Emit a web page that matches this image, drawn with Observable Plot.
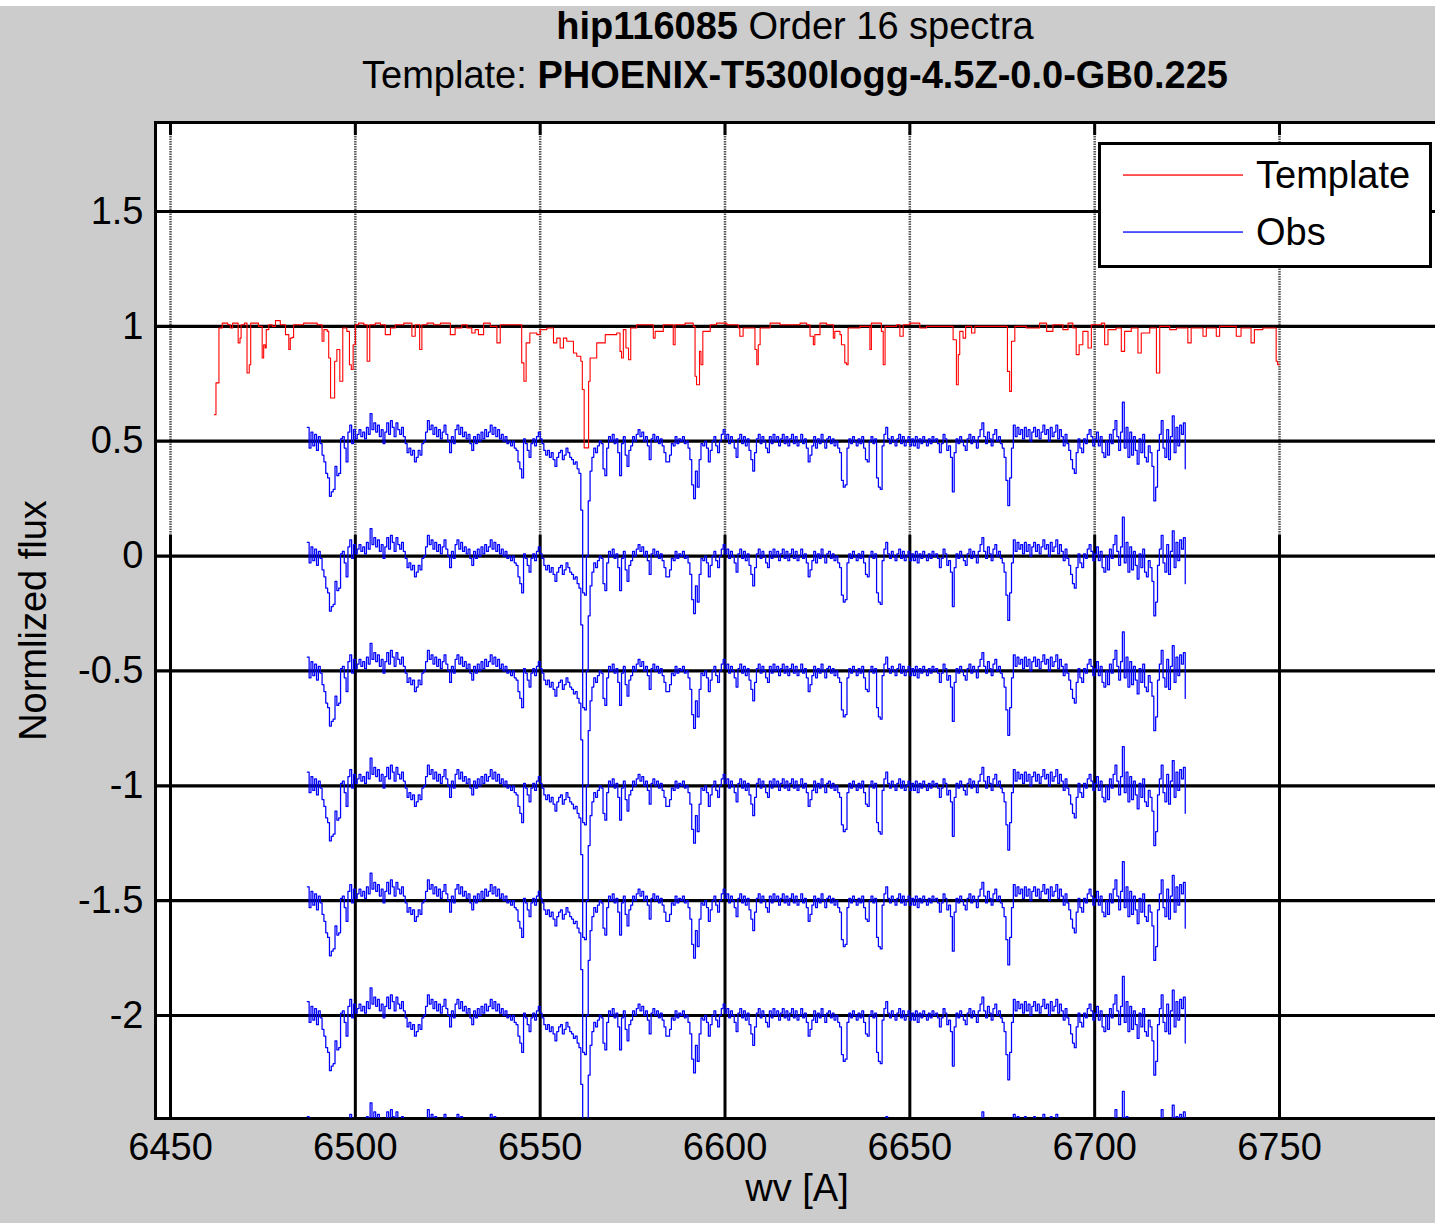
<!DOCTYPE html>
<html>
<head>
<meta charset="utf-8">
<script src="https://cdn.jsdelivr.net/npm/d3@7"></script>
<script src="https://cdn.jsdelivr.net/npm/@observablehq/plot@0.6"></script>
<style>
  html, body { margin: 0; padding: 0; }
  body {
    width: 1435px; height: 1223px; position: relative; overflow: hidden;
    background: #cccccc; color: #000;
    font-family: "Liberation Sans", Arial, Helvetica, sans-serif;
  }
  #topstrip { position: absolute; left: 0; top: 0; width: 1435px; height: 6px; background: #fff; }
  #title { position: absolute; left: 155px; top: 2px; width: 1280px; text-align: center; font-size: 38px; line-height: 49px; }
  #chart { position: absolute; left: 0; top: 100px; }
  #legend { position: absolute; left: 1098px; top: 142px; }
</style>
</head>
<body>
<div id="topstrip"></div>
<div id="title"></div>
<div id="chart"></div>
<div id="legend"></div>
<script>
// ---- labels ----
const starName = "hip116085";
const orderLabel = "Order 16 spectra";
const templateName = "PHOENIX-T5300logg-4.5Z-0.0-GB0.225";
const xLabel = "wv [A]";
const yLabel = "Normlized flux";
const legendLabels = ["Template", "Obs"];
const templateColor = "#ff0000";
const obsColor = "#0000ff";

// ---- axes ----
const xTicks = [6450, 6500, 6550, 6600, 6650, 6700, 6750];
const yTicks = [1.5, 1, 0.5, 0, -0.5, -1, -1.5, -2];
const xLimits = [6445.94, 6793.01];
const yLimits = [-2.4484, 1.8875];
const gridSplit = 0.09;   // dotted grid above, solid grid below

// ---- synthetic template spectrum: [wavelength, normalized flux] ----
const templateSpectrum = [
  [6461.9,0.616],[6462.3,0.754],[6463.1,0.993],[6464.0,1.014],[6465.5,1.007],[6466.2,0.993],[6466.8,1.014],
  [6468.3,0.928],[6468.8,0.949],[6469.1,1.007],[6470.0,1.014],[6470.7,0.797],[6471.3,0.833],[6471.7,1.014],
  [6473.0,1.014],[6473.8,1.000],[6474.8,0.862],[6475.2,0.920],[6475.6,0.906],[6475.9,0.986],[6476.6,1.007],
  [6477.5,1.000],[6478.4,1.025],[6479.7,1.007],[6481.1,0.964],[6482.0,0.899],[6482.4,0.949],[6482.9,0.952],
  [6483.3,1.007],[6485.1,1.007],[6486.0,1.014],[6488.3,1.014],[6489.7,1.007],[6491.0,0.935],[6491.5,0.986],
  [6492.4,0.978],[6492.8,0.862],[6493.3,0.688],[6494.4,0.848],[6495.0,0.899],[6495.8,0.761],[6496.6,0.993],
  [6497.7,0.978],[6498.4,0.833],[6498.9,0.812],[6499.4,0.920],[6500.0,1.007],[6500.9,1.014],[6502.3,1.007],
  [6503.2,0.848],[6503.9,1.007],[6505.4,1.014],[6506.8,1.007],[6508.1,0.964],[6509.5,0.993],[6510.8,1.007],
  [6513.1,1.014],[6515.3,0.957],[6516.2,1.007],[6517.4,0.899],[6518.0,1.007],[6519.4,1.014],[6521.2,1.007],
  [6523.0,1.014],[6525.7,0.964],[6527.0,0.993],[6528.8,1.007],[6530.2,0.993],[6531.5,0.971],[6532.4,0.986],
  [6533.3,0.964],[6534.7,1.014],[6536.5,1.000],[6538.3,0.928],[6539.2,1.007],[6541.5,1.007],[6543.7,1.007],
  [6545.0,0.841],[6545.6,0.761],[6546.2,0.928],[6547.2,0.971],[6549.1,0.964],[6550.0,0.986],[6551.8,0.993],
  [6553.6,0.928],[6554.5,0.949],[6555.4,0.906],[6556.3,0.949],[6557.2,0.935],[6558.6,0.935],[6559.0,0.884],
  [6559.9,0.870],[6561.0,0.848],[6561.4,0.725],[6561.9,0.471],[6562.6,0.471],[6563.1,0.761],[6563.5,0.862],
  [6565.3,0.928],[6567.6,0.964],[6570.7,0.971],[6571.6,0.891],[6572.0,0.862],[6572.5,0.986],[6573.2,0.906],
  [6573.9,0.855],[6574.5,0.993],[6576.1,1.007],[6579.7,1.007],[6580.6,0.949],[6581.1,0.978],[6583.3,1.007],
  [6585.6,1.007],[6586.0,0.920],[6586.5,1.007],[6589.2,1.014],[6591.4,1.000],[6591.9,0.783],[6592.3,0.746],
  [6593.1,0.891],[6593.5,0.833],[6594.0,0.978],[6596.0,1.007],[6597.7,1.014],[6599.1,1.014],[6600.5,1.007],
  [6603.6,0.993],[6604.0,0.957],[6604.9,0.993],[6607.7,0.993],[6608.1,0.899],[6608.6,0.833],[6609.0,0.920],
  [6609.5,0.993],[6612.2,1.014],[6614.9,1.007],[6618.5,1.007],[6620.3,1.014],[6622.1,1.007],[6623.0,0.957],
  [6623.9,0.920],[6624.3,0.964],[6625.7,1.014],[6627.5,1.007],[6629.3,0.949],[6629.7,0.978],[6631.1,0.964],
  [6631.5,0.920],[6632.4,0.841],[6632.9,0.833],[6633.3,0.993],[6636.5,1.000],[6639.2,0.899],[6639.6,1.014],
  [6641.0,1.014],[6642.3,0.978],[6642.8,0.833],[6643.3,1.000],[6646.4,1.007],[6647.3,0.957],[6648.2,1.007],
  [6650.0,1.014],[6652.7,0.993],[6654.5,1.000],[6659.9,1.000],[6661.7,0.942],[6662.6,0.746],[6663.1,0.877],
  [6663.5,0.978],[6664.4,0.949],[6665.1,1.000],[6666.7,0.971],[6667.6,1.000],[6675.2,1.000],[6676.4,0.804],
  [6677.0,0.717],[6677.5,0.935],[6678.4,1.000],[6681.5,0.993],[6685.1,1.014],[6687.0,0.978],[6688.7,1.007],
  [6691.4,0.986],[6692.8,1.014],[6694.1,0.993],[6695.0,0.877],[6695.8,0.920],[6696.8,0.978],[6698.2,0.906],
  [6699.1,1.007],[6701.8,1.014],[6702.7,0.920],[6703.6,0.986],[6705.8,0.993],[6707.2,0.891],[6708.1,0.978],
  [6709.9,0.993],[6711.7,0.884],[6712.6,0.971],[6714.9,0.993],[6716.7,0.797],[6717.6,1.000],[6720.3,0.986],
  [6722.1,0.993],[6725.2,0.928],[6726.1,0.993],[6729.3,0.957],[6730.2,0.993],[6732.9,0.957],[6733.8,1.000],
  [6738.3,0.957],[6739.6,0.993],[6742.3,0.928],[6743.2,0.986],[6745.5,0.993],[6749.1,0.848],[6749.5,0.833],
  [6750.0,0.833]
];

// ---- observed spectrum, 0.5 A sampling, stored as contiguous pieces ----
const obsStep = 0.5;
const obsStarts = [6487.0, 6500.5, 6520.5, 6550.5, 6600.5, 6650.5, 6700.5];
const obsFlux = [
  [1.06,0.97,1.04,0.98,1.03,0.96,1.02,0.99,0.94,0.91,
   0.86,0.84,0.76,0.78,0.79,0.89,0.85,0.86,1.01,1.02,
   0.97,0.91,1.04,1.07,0.99,1.05,1.01],
  [1.03,1.05,1.02,1.04,1.01,1.06,1.03,1.12,1.05,1.08,
   1.04,1.07,1.02,1.05,0.99,1.04,1.08,1.03,1.09,1.06,
   1.02,1.08,1.05,1.03,1.06,1.02,0.99,0.95,0.97,0.94,
   0.96,0.91,0.93,0.96,0.94,0.99,1.00,1.04,1.09,1.05],
  [1.07,1.03,1.06,1.02,1.05,1.01,1.04,1.07,1.03,1.00,
   0.95,1.02,0.99,1.05,1.07,1.03,1.06,1.02,1.04,1.01,
   1.03,0.99,0.96,1.02,0.99,1.03,1.00,1.04,1.01,1.05,
   1.02,1.04,1.07,1.03,1.06,1.02,1.05,1.01,1.03,1.00,
   1.02,0.99,1.00,0.98,1.00,0.97,0.96,0.91,0.88,0.84,
   1.01,0.99,0.96,0.93,0.99,1.01,0.98,1.02,1.04,1.01],
  [0.99,0.96,0.94,0.96,0.93,0.95,0.92,0.89,0.93,0.95,
   0.96,0.92,0.94,0.97,0.95,0.93,0.92,0.90,0.91,0.88,
   0.86,0.70,0.34,0.33,0.50,0.74,0.87,0.93,0.97,0.95,
   0.98,1.00,0.99,0.88,0.85,0.97,1.02,1.00,1.03,0.99,
   1.01,0.95,0.85,0.99,1.02,0.94,0.89,0.96,0.98,1.02,
   1.00,1.03,1.05,1.02,1.04,1.00,1.02,0.98,0.92,1.01,
   1.03,1.00,1.02,0.99,1.01,0.98,0.95,0.91,0.91,0.94,
   0.99,0.98,1.02,0.99,1.01,1.00,1.02,0.99,1.00,0.97,
   0.92,0.81,0.75,0.87,0.80,0.92,0.99,0.98,1.00,0.97,
   0.91,0.96,1.00,1.02,0.98,0.95,1.00,1.03,1.05,1.01],
  [1.03,0.99,1.02,1.00,0.97,0.93,1.01,1.03,0.99,1.02,
   0.98,1.01,0.96,0.92,0.87,0.95,1.01,1.03,0.99,1.02,
   1.00,0.97,0.95,1.02,0.99,1.03,1.00,1.02,0.98,1.01,
   1.03,0.99,1.02,0.98,1.01,1.03,0.99,1.02,0.98,1.00,
   1.03,0.99,1.01,0.97,0.91,0.94,0.98,1.02,0.97,1.01,
   0.99,1.03,1.00,0.97,1.01,1.02,0.99,1.01,0.98,1.00,
   0.97,0.95,0.83,0.80,0.81,0.97,1.01,0.99,1.02,1.00,
   0.98,1.01,0.99,1.02,0.97,0.92,0.91,1.00,1.02,0.99,
   1.01,0.84,0.80,0.79,0.98,1.03,1.06,1.01,0.99,1.02,
   1.00,0.98,1.01,1.03,0.99,1.02,0.98,1.00,1.02,0.98],
  [1.01,0.98,1.02,0.97,1.01,0.99,1.02,1.00,0.98,1.01,
   0.99,1.02,1.00,1.01,0.99,0.95,0.99,1.03,1.01,0.96,
   0.98,0.93,0.78,0.95,1.01,0.99,1.02,1.00,0.98,0.96,
   1.01,1.03,0.99,1.02,1.00,0.97,1.02,1.05,1.08,1.02,
   0.99,1.04,1.01,0.98,1.03,1.05,1.00,1.02,0.99,0.97,
   0.93,0.83,0.72,0.84,0.97,1.07,1.02,1.06,1.03,1.05,
   1.01,1.06,1.02,1.05,1.00,1.04,1.06,1.02,1.05,1.01,
   1.04,1.07,1.03,1.05,1.00,1.06,1.02,1.04,1.07,1.01,
   1.05,1.02,0.98,1.03,0.99,0.96,0.92,0.88,0.86,0.95,
   1.01,0.97,0.95,1.01,0.99,1.03,1.05,1.02,0.98,1.01],
  [1.04,0.98,1.02,0.95,0.93,1.00,0.94,1.03,0.99,1.05,
   1.09,1.02,0.96,1.04,1.17,0.97,1.06,0.93,1.04,0.94,
   1.02,0.96,0.90,1.01,0.95,1.03,0.93,0.91,0.98,0.95,
   0.89,0.74,0.80,0.96,1.03,1.09,0.97,0.93,1.05,0.92,
   1.02,1.11,0.95,1.06,0.98,1.07,1.03,1.08,0.88]
];

// vertical shifts applied to the stacked exposures
const obsOffsets = [-0.5, -1, -1.5, -2, -2.5, -3, -3.5];

// ---- build rows ----
const templateRows = templateSpectrum.map(([wv, flux]) => ({wv, flux}));
const obsSpectrum = obsStarts.flatMap((start, k) =>
  obsFlux[k].map((flux, i) => ({wv: start + i * obsStep, flux})));
const obsRows = obsOffsets.flatMap(offset =>
  obsSpectrum.map(d => ({wv: d.wv, y: d.flux + offset, offset})));

// ---- title ----
const title = d3.select("#title");
const l1 = title.append("div");
l1.append("b").text(starName);
l1.append("span").text(" " + orderLabel);
const l2 = title.append("div");
l2.append("span").text("Template: ");
l2.append("b").text(templateName);

// ---- chart ----
const fontFamily = "'Liberation Sans', Arial, Helvetica, sans-serif";
const yTop = yLimits[1];
const chart = Plot.plot({
  width: 1435,
  height: 1123,
  marginLeft: 155,
  marginRight: -3,
  marginTop: 22,
  marginBottom: 105,
  style: {background: "transparent", fontFamily, fontSize: "38px", color: "black", overflow: "visible"},
  x: {domain: xLimits, ticks: xTicks, tickSize: 0, tickPadding: 15, tickFormat: d => String(d), label: null},
  y: {domain: yLimits, ticks: yTicks, tickSize: 0, tickPadding: 12, tickFormat: d => String(d), label: null},
  marks: [
    Plot.frame({fill: "white", stroke: "black", strokeWidth: 3}),
    Plot.ruleX(xTicks, {y1: gridSplit, y2: yTop, stroke: "#555555", strokeWidth: 2.5, strokeDasharray: "1.5,1"}),
    Plot.ruleX(xTicks, {y1: yLimits[0], y2: gridSplit, stroke: "black", strokeWidth: 3}),
    Plot.ruleX(xTicks, {y1: yTop - 0.057, y2: yTop, stroke: "black", strokeWidth: 3}),
    Plot.ruleY(yTicks, {stroke: "black", strokeWidth: 3.2}),
    Plot.line(templateRows, {x: "wv", y: "flux", stroke: templateColor, strokeWidth: 1.1, curve: "step-after", clip: true}),
    Plot.line(obsRows, {x: "wv", y: "y", z: "offset", stroke: obsColor, strokeWidth: 1.25, curve: "step-after", clip: true}),
    Plot.text([xLabel], {text: d => d, frameAnchor: "bottom", textAnchor: "middle", dy: 82, fontSize: 38, fill: "black"}),
    Plot.text([yLabel], {text: d => d, frameAnchor: "left", textAnchor: "middle", rotate: -90, dx: -122, fontSize: 38, fill: "black"})
  ]
});
document.getElementById("chart").appendChild(chart);

// ---- legend box ----
const legendItems = [
  {label: legendLabels[0], color: templateColor},
  {label: legendLabels[1], color: obsColor}
];
const lg = d3.select("#legend").append("svg")
  .attr("width", 336).attr("height", 128)
  .style("font-family", fontFamily).style("font-size", "38px");
lg.append("rect").attr("x", 1.5).attr("y", 1.5).attr("width", 331).attr("height", 123)
  .attr("fill", "white").attr("stroke", "black").attr("stroke-width", 3);
const rows = lg.selectAll("g.item").data(legendItems).join("g")
  .attr("class", "item")
  .attr("transform", (d, i) => `translate(0,${33 + i * 57})`);
rows.append("rect").attr("x", 25).attr("y", -0.6).attr("width", 120).attr("height", 1.3)
  .attr("fill", d => d.color);
rows.append("text").attr("x", 158).attr("y", 13).attr("fill", "black").text(d => d.label);
</script>
</body>
</html>
